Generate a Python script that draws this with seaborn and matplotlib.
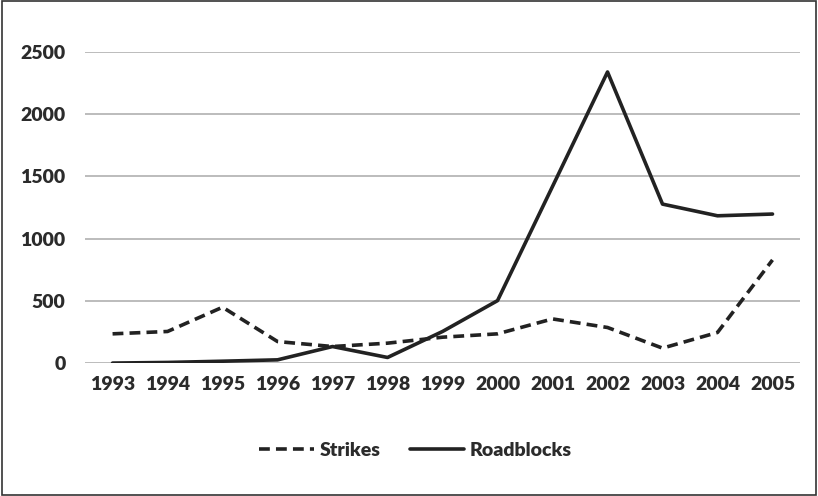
import numpy as np
import pandas as pd
import seaborn as sns
import matplotlib.pyplot as plt
from matplotlib.patches import Rectangle

years = [str(y) for y in range(1993, 2006)]
strikes = [235, 254, 449, 173, 133, 160, 208, 235, 355, 286, 120, 246, 829]
roadblocks = [0, 5, 15, 26, 133, 45, 254, 502, 1420, 2340, 1278, 1184, 1198]

df = pd.DataFrame({
    "year": years * 2,
    "count": strikes + roadblocks,
    "series": ["Strikes"] * len(years) + ["Roadblocks"] * len(years),
})

sns.set_style("white")
plt.rcParams["font.family"] = ["Lato", "DejaVu Sans"]
plt.rcParams["font.weight"] = "heavy"

fig = plt.figure(figsize=(8.18, 4.96), dpi=100)
ax = fig.add_axes([0.104, 0.268, 0.874, 0.627])

sns.lineplot(data=df, x="year", y="count", style="series",
             dashes={"Strikes": (3, 1.7), "Roadblocks": ""},
             color="#222222", linewidth=2.6, ax=ax, legend=False,
             sort=False)

ax.set_ylim(0, 2500)
ax.set_xlim(-0.5, len(years) - 0.5)
ax.set_yticks(range(0, 2501, 500))
ax.yaxis.grid(True, color="#aaaaaa", linewidth=1.1)
ax.set_axisbelow(True)
for s in ax.spines.values():
    s.set_visible(False)
ax.tick_params(length=0, labelsize=14, labelcolor="#2b2b2b", pad=9)
ax.tick_params(axis="y", pad=14)
ax.set_xlabel("")
ax.set_ylabel("")
for lbl in ax.get_xticklabels() + ax.get_yticklabels():
    lbl.set_fontweight("heavy")

handles = [plt.Line2D([], [], color="#222222", lw=2.6, dashes=(3, 1.7)),
           plt.Line2D([], [], color="#222222", lw=2.6)]
fig.legend(handles, ["Strikes", "Roadblocks"], loc="center",
           bbox_to_anchor=(0.508, 0.092), ncol=2, frameon=False,
           handlelength=2.8, handletextpad=0.3, columnspacing=1.5,
           prop={"size": 14, "weight": "heavy"}, labelcolor="#2b2b2b")

fig.add_artist(Rectangle((0.002, 0.003), 0.995, 0.994, transform=fig.transFigure,
                         fill=False, edgecolor="#333333", linewidth=1.2))

fig.savefig("out.png", dpi=100)
